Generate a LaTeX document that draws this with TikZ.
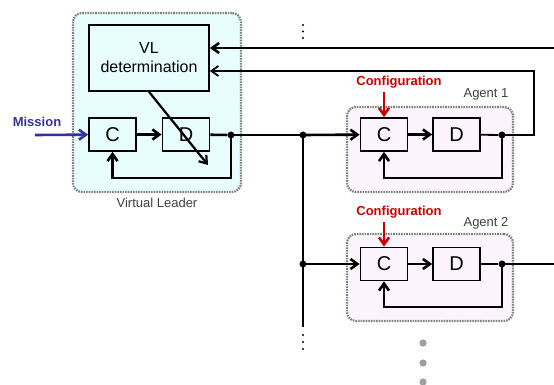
\documentclass[tikz,border=0pt]{standalone}
\usepackage{fontspec}
\setmainfont{Liberation Sans}
\usepackage{xcolor}
\usetikzlibrary{arrows.meta, positioning}

\definecolor{leaderfill}{HTML}{E8FEFE}
\definecolor{agentfill}{HTML}{FCF4FC}
\definecolor{missionblue}{HTML}{333399}
\definecolor{configred}{HTML}{CC0000}

\begin{document}
\begin{tikzpicture}[x=1pt, y=-1pt, >={Straight Barb[length=7pt, width=10pt]},
  frame/.style={rectangle, draw=gray, line width=2.2pt, dash pattern=on 1.6pt off 1pt, rounded corners=9pt},
  block/.style={rectangle, draw, line width=1.7pt, minimum width=47pt, minimum height=33pt, font=\fontsize{20}{22}\selectfont},
  tag/.style={font=\fontsize{13}{14}\selectfont, text=black!75},
  cmd/.style={font=\bfseries\fontsize{13}{14}\selectfont},
  dot/.style={circle, fill, inner sep=0pt, minimum size=7pt},
  line/.style={draw, line width=2.6pt},
  arrow/.style={line, ->}]
  \useasboundingbox (0,0) rectangle (554,385);

  % virtual leader
  \node [frame, fill=leaderfill, minimum width=168pt, minimum height=179pt] (vl) at (157,102.5) {};
  \node [block, fill=leaderfill, minimum width=120pt, minimum height=66pt, align=center, font=\fontsize{16}{19}\selectfont] (vldet) at (149,58) {VL\\determination};
  \node [block, fill=leaderfill] (vlc) at (112.5,134.5) {C};
  \node [block, fill=leaderfill] (vld) at (186,134.5) {D};
  \node [tag] (vllabel) at (157,203) {Virtual Leader};
  \node [dot] (vlout) at (231,135) {};

  % agents
  \node [frame, fill=agentfill, minimum width=166pt, minimum height=85pt] (ag1) at (430,149.5) {};
  \node [block, fill=agentfill] (ag1c) at (384,134.5) {C};
  \node [block, fill=agentfill] (ag1d) at (456.5,134.5) {D};
  \node [tag] (ag1label) at (486,94) {Agent 1};
  \node [dot] (ag1out) at (502,135) {};

  \node [frame, fill=agentfill, minimum width=166pt, minimum height=87pt] (ag2) at (430,277.5) {};
  \node [block, fill=agentfill] (ag2c) at (384,264) {C};
  \node [block, fill=agentfill] (ag2d) at (456.5,264) {D};
  \node [tag] (ag2label) at (486,223) {Agent 2};
  \node [dot] (ag2out) at (502,264) {};

  % bus
  \node [dot] (bus1) at (303,135) {};
  \node [dot] (bus2) at (303,264) {};
  \coordinate (busend) at (303,327);

  \node [cmd, text=missionblue] (mission) at (37,122) {Mission};
  \coordinate (missionin) at (35,135);
  \node [cmd, text=configred] (conf1) at (399,82) {Configuration};
  \node [cmd, text=configred] (conf2) at (399,212) {Configuration};

  \coordinate (fbtop) at (554,48);
  \coordinate (fbturn) at (534,71);
  \coordinate (ag2end) at (554,264);
  \coordinate (vlarrow) at (208,165);

  % continuation marks
  \foreach \y in {25,31.5,38,335,342,349}
    \fill (303,\y) circle (1.1pt);
  \foreach \y in {343,363,382}
    \fill [gray!75] (423,\y) circle (3.6pt);

  \path [arrow, missionblue] (missionin) -- (vlc);
  \path [arrow] (vlc) -- (vld);
  \path [line] (vld) -- (vlout);
  \path [arrow] (vlout.center) -- ++(0,43) -| (vlc);
  \path [arrow, line width=2.2pt] (vldet.south) -- (vlarrow);
  \path [line] (vlout.center) -- (bus1.center) -- (busend);
  \path [arrow] (bus1.center) -- (ag1c);
  \path [arrow] (bus2.center) -- (ag2c);
  \path [arrow] (fbtop) -- (fbtop -| vldet.east);

  \path [arrow] (ag1c) -- (ag1d);
  \path [line, line width=1.8pt] (ag1d) -- (ag1out);
  \path [arrow] (ag1out.center) -- ++(0,43) -| (ag1c);
  \path [arrow, line width=1.8pt] (ag1out.center) -| (fbturn) -- (fbturn -| vldet.east);

  \path [arrow] (ag2c) -- (ag2d);
  \path [line, line width=1.8pt] (ag2d) -- (ag2out);
  \path [arrow] (ag2out.center) -- ++(0,43) -| (ag2c);
  \path [line] (ag2out.center) -- (ag2end);

  \path [arrow, configred] (conf1.south -| ag1c) -- (ag1c);
  \path [arrow, configred] (conf2.south -| ag2c) -- (ag2c);
\end{tikzpicture}
\end{document}
